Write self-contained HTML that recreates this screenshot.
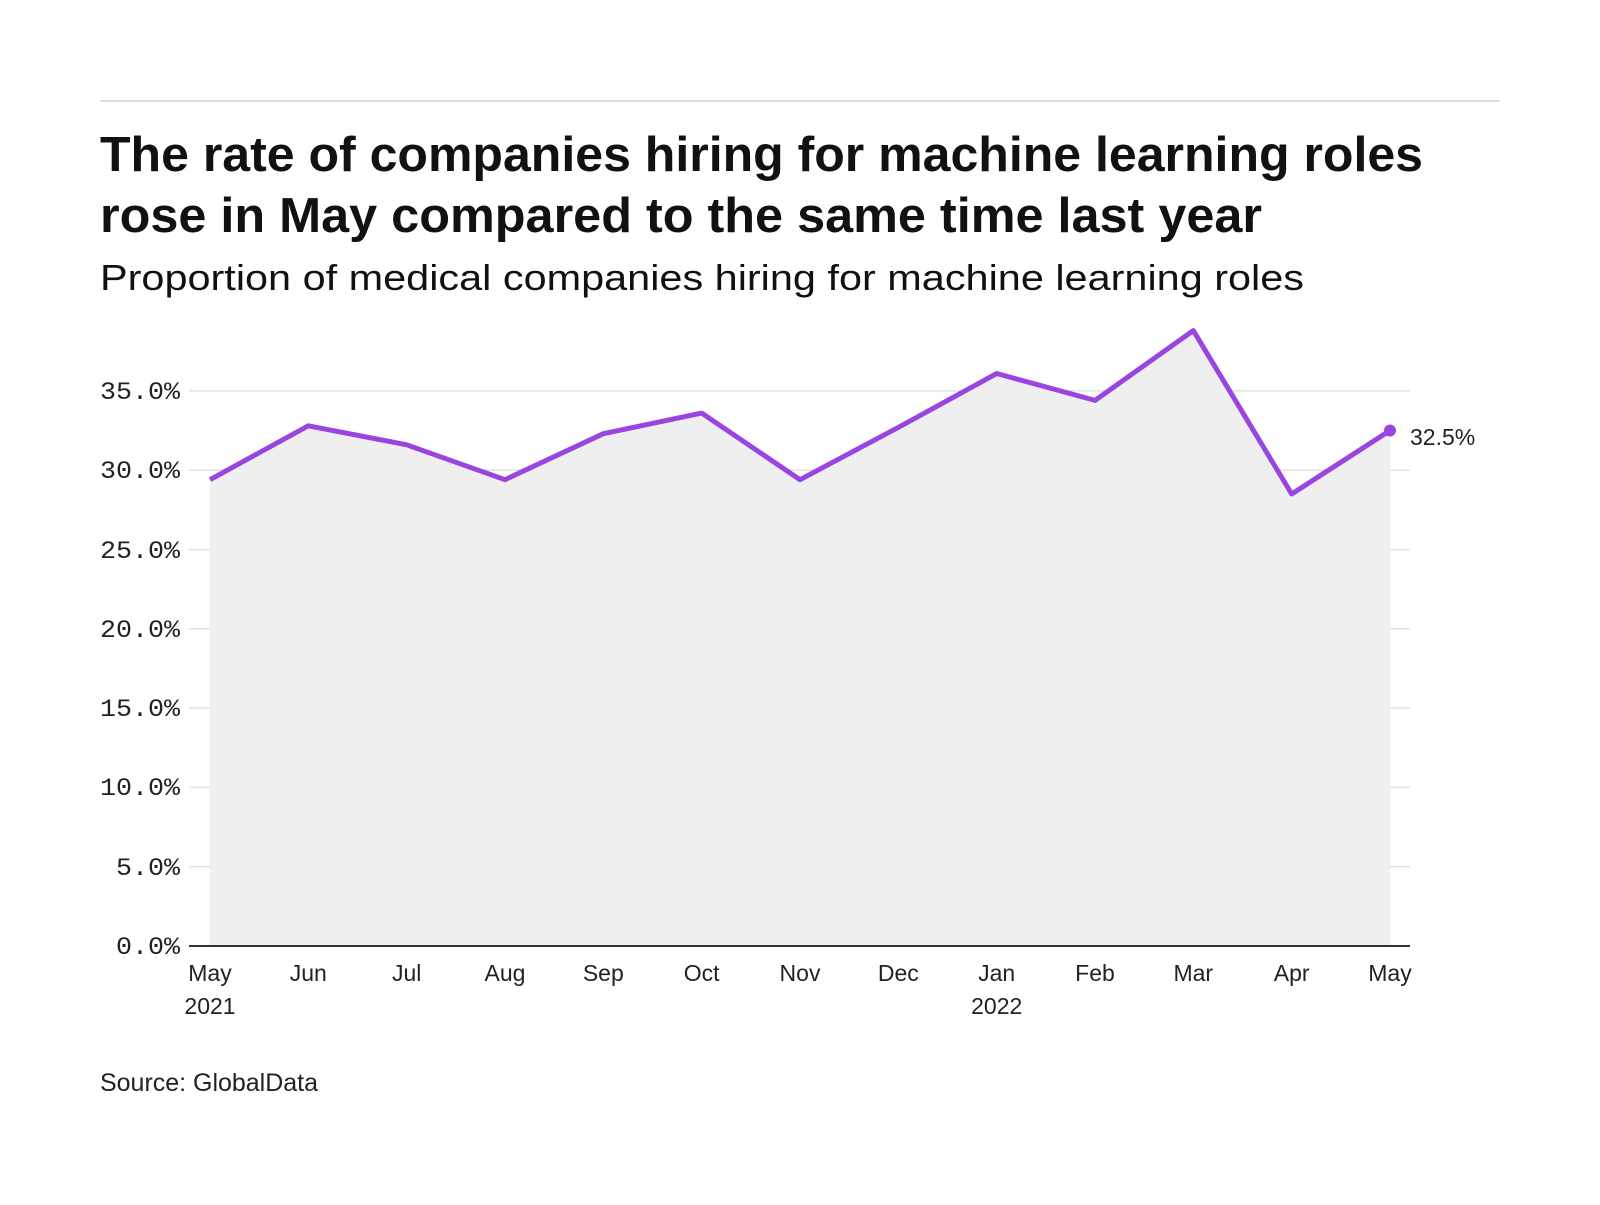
<!DOCTYPE html>
<html><head><meta charset="utf-8"><style>
body{margin:0;background:#fff;}
svg text{font-family:"Liberation Sans",sans-serif;}
</style></head><body>
<svg width="1600" height="1200" viewBox="0 0 1600 1200" xmlns="http://www.w3.org/2000/svg">
<rect width="1600" height="1200" fill="#fff"/>
<line x1="100" y1="101" x2="1500" y2="101" stroke="#ddd" stroke-width="2"/>
<text x="100" y="171" font-size="49" font-weight="bold" fill="#111" textLength="1323" lengthAdjust="spacingAndGlyphs">The rate of companies hiring for machine learning roles</text>
<text x="100" y="232" font-size="49" font-weight="bold" fill="#111" textLength="1162" lengthAdjust="spacingAndGlyphs">rose in May compared to the same time last year</text>
<text x="100" y="290" font-size="36" fill="#111" textLength="1204" lengthAdjust="spacingAndGlyphs">Proportion of medical companies hiring for machine learning roles</text>
<g stroke="#e0e0e0" stroke-width="1.5">
<line x1="189" x2="1410" y1="390.9" y2="390.9"/>
<line x1="189" x2="1410" y1="470.2" y2="470.2"/>
<line x1="189" x2="1410" y1="549.5" y2="549.5"/>
<line x1="189" x2="1410" y1="628.8" y2="628.8"/>
<line x1="189" x2="1410" y1="708.1" y2="708.1"/>
<line x1="189" x2="1410" y1="787.4" y2="787.4"/>
<line x1="189" x2="1410" y1="866.7" y2="866.7"/>
</g>
<g font-size="25" fill="#222" text-anchor="end">
<text x="180" y="399" style="font-family:'Liberation Mono',monospace" textLength="80" lengthAdjust="spacingAndGlyphs">35.0%</text>
<text x="180" y="478" style="font-family:'Liberation Mono',monospace" textLength="80" lengthAdjust="spacingAndGlyphs">30.0%</text>
<text x="180" y="558" style="font-family:'Liberation Mono',monospace" textLength="80" lengthAdjust="spacingAndGlyphs">25.0%</text>
<text x="180" y="637" style="font-family:'Liberation Mono',monospace" textLength="80" lengthAdjust="spacingAndGlyphs">20.0%</text>
<text x="180" y="716" style="font-family:'Liberation Mono',monospace" textLength="80" lengthAdjust="spacingAndGlyphs">15.0%</text>
<text x="180" y="795" style="font-family:'Liberation Mono',monospace" textLength="80" lengthAdjust="spacingAndGlyphs">10.0%</text>
<text x="180" y="875" style="font-family:'Liberation Mono',monospace" textLength="64" lengthAdjust="spacingAndGlyphs">5.0%</text>
<text x="180" y="954" style="font-family:'Liberation Mono',monospace" textLength="64" lengthAdjust="spacingAndGlyphs">0.0%</text>
</g>
<polygon fill="#efefef" points="210,946 210,479.7 308.3,425.8 406.7,444.8 505,479.7 603.3,433.7 701.7,413.1 800,479.7 898.3,427.4 996.7,373.5 1095,400.4 1193.3,330.6 1291.7,494 1390,430.5 1390,946"/>
<polyline fill="none" stroke="#9b45e0" stroke-width="5" stroke-linejoin="round" points="210,479.7 308.3,425.8 406.7,444.8 505,479.7 603.3,433.7 701.7,413.1 800,479.7 898.3,427.4 996.7,373.5 1095,400.4 1193.3,330.6 1291.7,494 1390,430.5"/>
<circle cx="1390" cy="430.5" r="6" fill="#9b45e0"/>
<text x="1410" y="445" font-size="23" fill="#222">32.5%</text>
<line x1="189" y1="946" x2="1410" y2="946" stroke="#333" stroke-width="2"/>
<g font-size="23" fill="#222" text-anchor="middle">
<text x="210" y="981">May</text><text x="210" y="1014">2021</text>
<text x="308.3" y="981">Jun</text>
<text x="406.7" y="981">Jul</text>
<text x="505" y="981">Aug</text>
<text x="603.3" y="981">Sep</text>
<text x="701.7" y="981">Oct</text>
<text x="800" y="981">Nov</text>
<text x="898.3" y="981">Dec</text>
<text x="996.7" y="981">Jan</text><text x="996.7" y="1014">2022</text>
<text x="1095" y="981">Feb</text>
<text x="1193.3" y="981">Mar</text>
<text x="1291.7" y="981">Apr</text>
<text x="1390" y="981">May</text>
</g>
<text x="100" y="1091" font-size="25" fill="#222" textLength="218" lengthAdjust="spacingAndGlyphs">Source: GlobalData</text>
</svg>
</body></html>
